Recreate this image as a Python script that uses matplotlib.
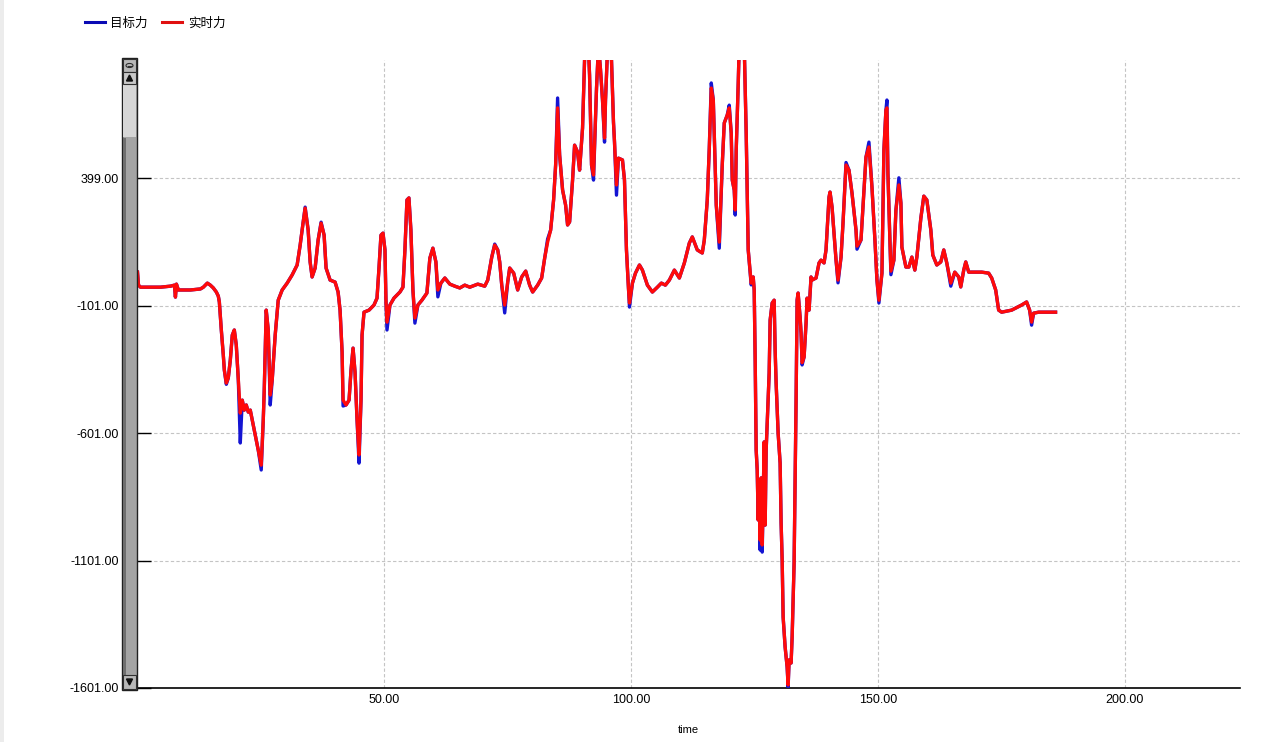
import matplotlib.pyplot as plt
from matplotlib.patches import Rectangle, Polygon, Circle
from matplotlib.lines import Line2D

plt.rcParams['font.family'] = ['Liberation Sans', 'Noto Sans CJK SC', 'DejaVu Sans']

# time (s) and force samples
time = [
    0.10, 0.30, 0.71, 2.73, 4.75, 6.77, 7.58, 7.78, 7.98, 8.38, 10.81, 12.83, 13.43, 14.24, 14.85,
    15.45, 16.06, 16.46, 16.67, 17.07, 17.47, 17.68, 18.08, 18.48, 18.89, 19.29, 19.70, 20.10, 20.51,
    20.91, 21.31, 21.72, 22.12, 22.53, 22.93, 23.33, 23.94, 24.55, 25.15, 25.56, 25.76, 26.16, 26.57,
    26.97, 27.37, 27.98, 28.59, 29.39, 30.40, 31.41, 32.42, 33.03, 33.64, 34.04, 34.65, 35.05, 35.45,
    36.06, 36.67, 37.27, 37.88, 38.28, 39.09, 40.10, 40.71, 41.11, 41.52, 41.72, 42.32, 42.93, 43.33,
    43.74, 44.14, 44.55, 44.95, 45.35, 45.56, 45.96, 46.97, 47.98, 48.59, 48.99, 49.39, 49.80, 50.20,
    50.40, 50.61, 51.21, 52.02, 53.23, 53.84, 54.24, 54.65, 55.05, 55.45, 55.86, 56.26, 56.87, 57.68,
    58.69, 59.29, 59.90, 60.51, 60.91, 61.52, 62.32, 63.33, 64.34, 65.35, 66.36, 67.37, 68.99, 70.40,
    71.01, 71.82, 72.42, 73.03, 73.43, 73.84, 74.44, 75.05, 75.45, 76.26, 77.07, 77.88, 78.69, 79.49,
    80.10, 81.11, 81.92, 82.53, 83.13, 83.74, 84.34, 84.75, 85.15, 85.56, 86.16, 86.77, 87.17, 87.58,
    88.18, 88.59, 89.19, 89.60, 90.20, 90.61, 90.81, 91.41, 91.62, 92.02, 92.42, 93.03, 93.43, 93.84,
    94.24, 94.65, 94.85, 95.25, 95.66, 96.06, 96.46, 96.67, 97.07, 97.47, 98.28, 98.69, 99.09, 99.49,
    99.70, 100.30, 100.91, 101.72, 102.32, 103.33, 104.34, 105.35, 106.16, 106.97, 107.78, 108.79,
    109.80, 110.81, 111.82, 112.42, 113.43, 114.44, 114.85, 115.45, 115.86, 116.26, 116.67, 117.27,
    117.88, 118.48, 118.89, 119.49, 119.90, 120.30, 120.51, 120.91, 121.11, 121.31, 121.72, 121.92,
    122.93, 123.33, 123.74, 124.34, 124.75, 124.95, 125.15, 125.35, 125.56, 125.76, 125.96, 126.16,
    126.36, 126.57, 126.77, 126.97, 127.17, 127.37, 127.78, 127.98, 128.18, 128.59, 128.99, 129.19,
    129.39, 129.80, 130.20, 130.40, 130.61, 130.81, 131.21, 131.62, 131.82, 132.02, 132.42, 132.63,
    133.03, 133.23, 133.43, 133.64, 133.84, 134.24, 134.44, 134.65, 135.05, 135.45, 135.66, 136.06,
    136.46, 136.67, 137.47, 138.08, 138.48, 139.09, 139.49, 140.10, 140.30, 140.71, 141.52, 141.92,
    142.53, 142.93, 143.54, 144.14, 144.75, 145.56, 145.76, 146.57, 147.17, 147.58, 148.18, 148.79,
    149.39, 149.80, 150.20, 150.81, 151.21, 151.62, 151.82, 152.02, 152.42, 152.63, 153.23, 153.64,
    154.24, 154.65, 154.85, 155.66, 156.26, 156.87, 157.47, 157.88, 158.69, 159.29, 159.90, 160.71,
    161.11, 161.92, 162.73, 163.33, 163.94, 164.75, 165.56, 166.36, 166.77, 167.37, 167.78, 168.38,
    169.80, 171.01, 172.42, 173.03, 173.84, 174.44, 175.05, 177.07, 179.09, 180.10, 180.71, 181.11,
    181.52, 182.53, 185.96,
]

actual_force = [
    30, -21, -29, -29, -29, -25, -21, -68, -17, -40, -40, -36, -29, -13, -21,
    -32, -48, -64, -87, -197, -295, -354, -405, -385, -315, -217, -197, -256, -393,
    -523, -472, -511, -491, -519, -511, -550, -609, -668, -727, -550, -432, -119, -197,
    -452, -393, -216, -80, -40, -13, 19, 58, 136, 226, 281, 195, 70, 11,
    46, 156, 222, 175, 46, -1, -9, -48, -119, -283, -472, -491, -472, -354,
    -268, -362, -550, -687, -472, -217, -127, -119, -99, -72, 46, 175, 183, 117,
    -80, -166, -99, -72, -48, -29, 117, 313, 321, 195, -40, -150, -99, -80,
    -52, 85, 124, 70, -40, -13, 7, -17, -25, -32, -21, -29, -17, -25,
    -1, 89, 136, 117, 70, -21, -99, -9, 46, 26, -40, 11, 34, -21,
    -48, -21, 7, 85, 148, 195, 313, 450, 674, 489, 352, 293, 215, 227,
    391, 528, 501, 430, 595, 862, 921, 901, 803, 450, 411, 752, 921, 823,
    705, 556, 705, 901, 940, 862, 619, 540, 372, 477, 470, 391, 117, -32,
    -91, -13, 26, 58, 38, -21, -48, -29, -13, -21, -1, 38,
    7, 66, 144, 168, 117, 105, 156, 313, 517, 752, 705, 293,
    148, 450, 615, 646, 674, 575, 391, 352, 274, 509, 772, 921,
    921, 575, 117, -13, 11, -40, -315, -668, -746, -942, -785, -1021,
    -777, -1040, -864, -636, -962, -668, -472, -366, -158, -91, -80, -276,
    -405, -603, -719, -954, -1099, -1323, -1440, -1519, -1589, -1491, -1503, -1401,
    -1111, -797, -472, -80, -52, -146, -209, -325, -303, -170, -72, -119,
    11, -1, 7, 66, 77, 66, 117, 324, 344, 285, 77, -1,
    89, 222, 450, 430, 340, 195, 132, 156, 352, 481, 521, 364,
    156, -1, -80, 26, 509, 666, 674, 419, 156, 34, 77, 273,
    372, 301, 128, 50, 50, 89, 38, 89, 242, 328, 313, 195,
    97, 58, 70, 117, 66, -13, 30, 11, -28, 38, 70, 30,
    30, 30, 26, 7, -40, -119, -127, -119, -99, -87, -119, -166,
    -131, -127, -127,
]

target_force = [
    30, -21, -29, -29, -29, -25, -21, -68, -17, -40, -40, -36, -29, -13, -21,
    -32, -48, -64, -87, -197, -295, -354, -410, -385, -315, -217, -197, -256, -393,
    -640, -472, -511, -491, -519, -511, -550, -609, -668, -746, -550, -432, -119, -197,
    -491, -393, -216, -80, -40, -13, 19, 58, 136, 226, 285, 195, 70, 11,
    46, 156, 226, 175, 46, -1, -9, -48, -119, -283, -495, -491, -472, -354,
    -268, -362, -550, -719, -472, -217, -127, -119, -99, -72, 46, 175, 183, 117,
    -80, -197, -99, -72, -48, -29, 117, 313, 321, 195, -40, -170, -99, -80,
    -52, 85, 124, 70, -67, -13, 7, -17, -25, -32, -21, -29, -17, -25,
    -1, 89, 140, 117, 70, -21, -130, -9, 46, 26, -40, 11, 34, -21,
    -48, -21, 7, 85, 160, 195, 313, 450, 713, 489, 352, 293, 215, 227,
    391, 528, 501, 430, 595, 862, 921, 901, 803, 450, 391, 752, 921, 823,
    705, 540, 705, 901, 940, 862, 619, 540, 332, 477, 470, 391, 117, -32,
    -107, -13, 26, 58, 38, -21, -48, -29, -13, -21, -1, 38,
    7, 66, 144, 168, 117, 105, 156, 313, 517, 772, 705, 293,
    124, 450, 615, 646, 685, 575, 391, 352, 254, 509, 772, 921,
    921, 575, 117, -20, 11, -40, -315, -668, -746, -942, -785, -1060,
    -777, -1068, -864, -636, -962, -668, -472, -366, -158, -91, -80, -276,
    -405, -603, -719, -954, -1099, -1323, -1440, -1519, -1597, -1491, -1503, -1401,
    -1111, -797, -472, -80, -52, -146, -209, -334, -303, -170, -72, -119,
    11, -1, 7, 66, 77, 66, 117, 324, 344, 285, 77, -12,
    89, 222, 460, 430, 340, 195, 120, 156, 352, 481, 540, 364,
    156, -1, -91, 26, 509, 666, 705, 419, 156, 20, 77, 273,
    400, 301, 128, 50, 50, 89, 38, 89, 242, 328, 313, 195,
    97, 58, 70, 117, 66, -25, 30, 11, -28, 38, 70, 30,
    30, 30, 26, 7, -40, -119, -127, -119, -99, -87, -119, -178,
    -131, -127, -127,
]

y_ticks = [399, -101, -601, -1101, -1601]
x_ticks = [50, 100, 150, 200]

W, H = 1282, 742
fig = plt.figure(figsize=(W / 100, H / 100), dpi=100)
fig.patch.set_facecolor('white')


def fx(px):
    return px / W


def fy(py):
    return 1 - py / H


ax = fig.add_axes([fx(137), fy(688), fx(1240) - fx(137), fy(60) - fy(688)])
ax.plot(time, target_force, color='#1414d2', linewidth=2.4, solid_joinstyle='round', zorder=3)
ax.plot(time, actual_force, color='#ff0a0a', linewidth=2.4, solid_joinstyle='round', zorder=4)

ax.set_xlim(0, 223.3)
ax.set_ylim(-1601, 862)
ax.set_yticks(y_ticks)
ax.set_yticklabels([f'{v:.2f}' for v in y_ticks])
ax.set_xticks(x_ticks)
ax.set_xticklabels([f'{v:.2f}' for v in x_ticks])
ax.tick_params(axis='y', direction='in', length=10, width=1, pad=13, labelsize=9, colors='black')
ax.tick_params(axis='x', direction='in', length=0, pad=4, labelsize=9)
ax.grid(True, color='#c4c4c4', linestyle=(0, (3, 2)), linewidth=0.8)
for side in ['top', 'right', 'left']:
    ax.spines[side].set_visible(False)
ax.spines['bottom'].set_linewidth(1.2)
ax.set_xlabel('time', fontsize=8, labelpad=14)

# legend drawn like the original control
fig.add_artist(Line2D([fx(85), fx(105)], [fy(22), fy(22)], color='#0a0ab4', linewidth=2.2))
fig.text(fx(110), fy(23), '目标力', fontsize=9, va='center', ha='left',
         family=['Noto Sans CJK SC', 'DejaVu Sans'])
fig.add_artist(Line2D([fx(162), fx(182)], [fy(22), fy(22)], color='#e01010', linewidth=2.2))
fig.text(fx(188), fy(23), '实时力', fontsize=9, va='center', ha='left',
         family=['Noto Sans CJK SC', 'DejaVu Sans'])

# window edge
fig.add_artist(Rectangle((0, 0), fx(4), 1, transform=fig.transFigure, color='#ececec', lw=0))

# vertical scrollbar on the left of the plot area
def rect(x0, y0, x1, y1, fc, ec='none', lw=0):
    fig.add_artist(Rectangle((fx(x0), fy(y1)), fx(x1) - fx(x0), fy(y0) - fy(y1),
                             transform=fig.transFigure, facecolor=fc, edgecolor=ec, linewidth=lw))

rect(122, 58, 137, 690, '#a4a4a4', '#202020', 1.0)
rect(123, 138, 126, 689, '#6e6e6e')
rect(123, 84, 136, 137, '#d6d6d6')
rect(123, 59, 136, 72, '#b8b8b8', '#303030', 0.8)
rect(123, 72, 136, 84, '#c8c8c8', '#303030', 0.8)
rect(123, 675, 136, 689, '#b8b8b8', '#303030', 0.8)
fig.add_artist(Circle((fx(129.5), fy(65.5)), 3.5 / W, transform=fig.transFigure,
                      facecolor='none', edgecolor='#303030', linewidth=0.8))
fig.add_artist(Line2D([fx(127.5), fx(131.5)], [fy(65.5), fy(65.5)], color='#303030', linewidth=0.8))
fig.add_artist(Polygon([(fx(126.5), fy(81)), (fx(132.5), fy(81)), (fx(129.5), fy(75))],
                       transform=fig.transFigure, color='#101010'))
fig.add_artist(Polygon([(fx(126.5), fy(679)), (fx(132.5), fy(679)), (fx(129.5), fy(685))],
                       transform=fig.transFigure, color='#101010'))

fig.savefig('out.png', dpi=100)
